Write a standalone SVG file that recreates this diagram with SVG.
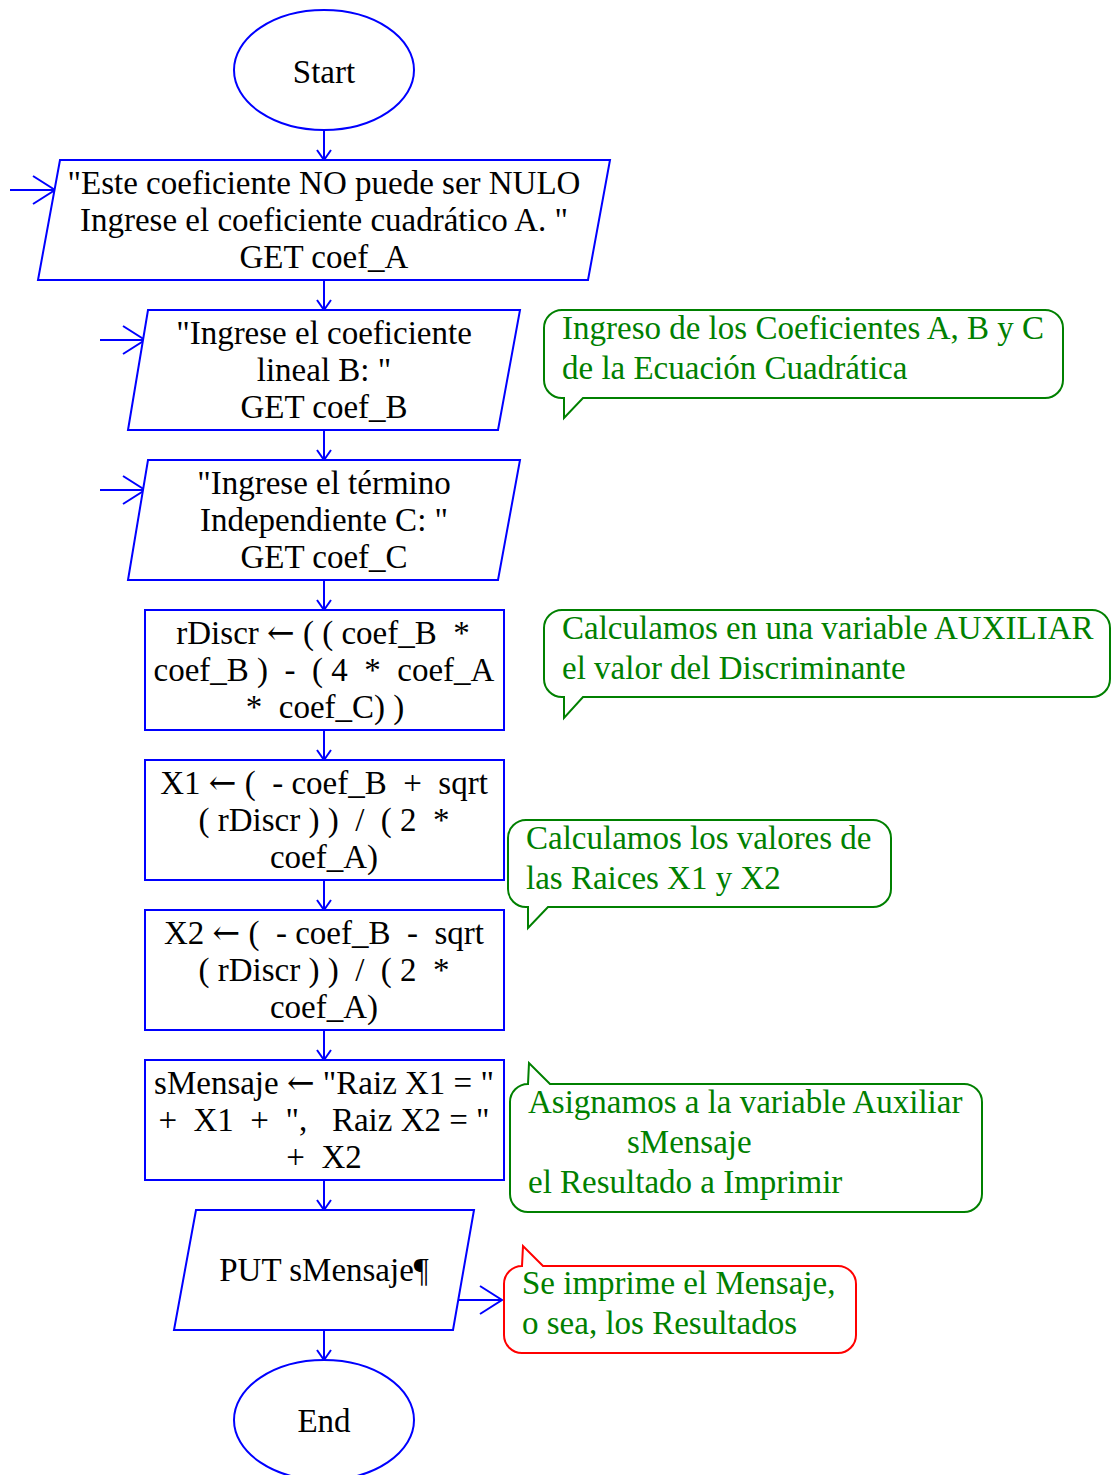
<svg xmlns="http://www.w3.org/2000/svg" width="1111" height="1475" viewBox="0 0 1111 1475">
<style>
.shape{fill:#fff;stroke:#0000ff;stroke-width:2}
.conn{fill:none;stroke:#0000ff;stroke-width:2}
.t{font-family:"Liberation Serif","Times New Roman",serif;font-size:33px;fill:#000;text-anchor:middle;white-space:pre}
.g{font-family:"Liberation Serif","Times New Roman",serif;font-size:33px;fill:#008000;white-space:pre}
.ar{font-family:"DejaVu Serif",serif;font-size:33px}
.cg{fill:#fff;stroke:#008000;stroke-width:2}
.cr{fill:#fff;stroke:#ff0000;stroke-width:2}
</style>
<defs>
<marker id="sa" markerUnits="userSpaceOnUse" markerWidth="14" markerHeight="18" refX="11" refY="8" orient="auto">
<path d="M1,1 L11,8 L1,15" fill="none" stroke="#0000ff" stroke-width="2"/>
</marker>
<marker id="ba" markerUnits="userSpaceOnUse" markerWidth="26" markerHeight="32" refX="23" refY="15" orient="auto">
<path d="M1,1 L23,15 L1,29" fill="none" stroke="#0000ff" stroke-width="2"/>
</marker>
</defs>
<g id="connectors">
<line class="conn" x1="324" y1="130" x2="324" y2="160" marker-end="url(#sa)"/>
<line class="conn" x1="324" y1="280" x2="324" y2="310" marker-end="url(#sa)"/>
<line class="conn" x1="324" y1="430" x2="324" y2="460" marker-end="url(#sa)"/>
<line class="conn" x1="324" y1="580" x2="324" y2="610" marker-end="url(#sa)"/>
<line class="conn" x1="324" y1="730" x2="324" y2="760" marker-end="url(#sa)"/>
<line class="conn" x1="324" y1="880" x2="324" y2="910" marker-end="url(#sa)"/>
<line class="conn" x1="324" y1="1030" x2="324" y2="1060" marker-end="url(#sa)"/>
<line class="conn" x1="324" y1="1180" x2="324" y2="1210" marker-end="url(#sa)"/>
<line class="conn" x1="324" y1="1330" x2="324" y2="1360" marker-end="url(#sa)"/>
<line class="conn" x1="10" y1="190" x2="55" y2="190" marker-end="url(#ba)"/>
<line class="conn" x1="100" y1="340" x2="145" y2="340" marker-end="url(#ba)"/>
<line class="conn" x1="100" y1="490" x2="145" y2="490" marker-end="url(#ba)"/>
<line class="conn" x1="457" y1="1300" x2="502" y2="1300" marker-end="url(#ba)"/>
</g>
<g id="start">
<ellipse class="shape" cx="324" cy="70" rx="90" ry="60"/>
<text class="t" x="324" y="83">Start</text>
</g>
<g id="input_a">
<polygon class="shape" points="60,160 610,160 588,280 38,280"/>
<text class="t" x="324" y="194">"Este coeficiente NO puede ser NULO</text>
<text class="t" x="324" y="231">Ingrese el coeficiente cuadrático A. "</text>
<text class="t" x="324" y="268">GET coef_A</text>
</g>
<g id="input_b">
<polygon class="shape" points="148,310 520,310 498,430 128,430"/>
<text class="t" x="324" y="344">"Ingrese el coeficiente</text>
<text class="t" x="324" y="381">lineal B: "</text>
<text class="t" x="324" y="418">GET coef_B</text>
</g>
<g id="input_c">
<polygon class="shape" points="148,460 520,460 498,580 128,580"/>
<text class="t" x="324" y="494">"Ingrese el término</text>
<text class="t" x="324" y="531">Independiente C: "</text>
<text class="t" x="324" y="568">GET coef_C</text>
</g>
<g id="calc_discr">
<rect class="shape" x="145" y="610" width="359" height="120"/>
<text class="t" x="323" y="644">rDiscr <tspan class="ar">←</tspan> ( ( coef_B  *</text>
<text class="t" x="324" y="681">coef_B )  -  ( 4  *  coef_A</text>
<text class="t" x="325" y="718">*  coef_C) )</text>
</g>
<g id="calc_x1">
<rect class="shape" x="145" y="760" width="359" height="120"/>
<text class="t" x="324" y="794">X1 <tspan class="ar">←</tspan> (  - coef_B  +  sqrt</text>
<text class="t" x="324" y="831">( rDiscr ) )  /  ( 2  *</text>
<text class="t" x="324" y="868">coef_A)</text>
</g>
<g id="calc_x2">
<rect class="shape" x="145" y="910" width="359" height="120"/>
<text class="t" x="324" y="944">X2 <tspan class="ar">←</tspan> (  - coef_B  -  sqrt</text>
<text class="t" x="324" y="981">( rDiscr ) )  /  ( 2  *</text>
<text class="t" x="324" y="1018">coef_A)</text>
</g>
<g id="assign_msg">
<rect class="shape" x="145" y="1060" width="359" height="120"/>
<text class="t" x="324" y="1094">sMensaje <tspan class="ar">←</tspan> "Raiz X1 = "</text>
<text class="t" x="324" y="1131">+  X1  +  ",   Raiz X2 = "</text>
<text class="t" x="324" y="1168">+  X2</text>
</g>
<g id="output">
<polygon class="shape" points="196,1210 474,1210 453,1330 174,1330"/>
<text class="t" x="324" y="1281">PUT sMensaje¶</text>
</g>
<g id="end">
<ellipse class="shape" cx="324" cy="1420" rx="90" ry="60"/>
<text class="t" x="324" y="1432">End</text>
</g>
<g id="note_coef">
<path class="cg" d="M562,310 H1045 A18,18 0 0 1 1063,328 V380 A18,18 0 0 1 1045,398 H583 L564,418 V398 H562 A18,18 0 0 1 544,380 V328 A18,18 0 0 1 562,310 Z"/>
<text class="g" x="562" y="339">Ingreso de los Coeficientes A, B y C</text>
<text class="g" x="562" y="379">de la Ecuación Cuadrática</text>
</g>
<g id="note_discr">
<path class="cg" d="M562,610 H1092 A18,18 0 0 1 1110,628 V679 A18,18 0 0 1 1092,697 H583 L564,718 V697 H562 A18,18 0 0 1 544,679 V628 A18,18 0 0 1 562,610 Z"/>
<text class="g" x="562" y="639">Calculamos en una variable AUXILIAR</text>
<text class="g" x="562" y="679">el valor del Discriminante</text>
</g>
<g id="note_roots">
<path class="cg" d="M526,820 H873 A18,18 0 0 1 891,838 V889 A18,18 0 0 1 873,907 H548 L528,928 V907 H526 A18,18 0 0 1 508,889 V838 A18,18 0 0 1 526,820 Z"/>
<text class="g" x="526" y="849">Calculamos los valores de</text>
<text class="g" x="526" y="889">las Raices X1 y X2</text>
</g>
<g id="note_msg">
<path class="cg" d="M528,1084 L529,1063 L550,1084 H964 A18,18 0 0 1 982,1102 V1194 A18,18 0 0 1 964,1212 H528 A18,18 0 0 1 510,1194 V1102 A18,18 0 0 1 528,1084 Z"/>
<text class="g" x="528" y="1113">Asignamos a la variable Auxiliar</text>
<text class="g" x="627" y="1153">sMensaje</text>
<text class="g" x="528" y="1193">el Resultado a Imprimir</text>
</g>
<g id="note_print">
<path class="cr" d="M522,1266 L523,1246 L543,1266 H838 A18,18 0 0 1 856,1284 V1335 A18,18 0 0 1 838,1353 H522 A18,18 0 0 1 504,1335 V1284 A18,18 0 0 1 522,1266 Z"/>
<text class="g" x="522" y="1294">Se imprime el Mensaje,</text>
<text class="g" x="522" y="1334">o sea, los Resultados</text>
</g>
</svg>
